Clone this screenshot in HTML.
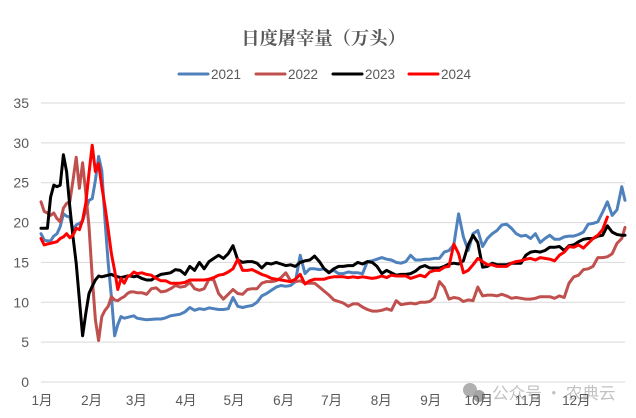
<!DOCTYPE html>
<html>
<head>
<meta charset="utf-8">
<style>
html,body{margin:0;padding:0;background:#fff;}
#chart{display:block;width:636px;height:418px;}
text{font-family:"Liberation Sans","Noto Sans CJK SC",sans-serif;}
</style>
</head>
<body>
<svg id="chart" xmlns="http://www.w3.org/2000/svg" width="636" height="418" viewBox="0 0 636 418">
  <rect x="0" y="0" width="636" height="418" fill="#ffffff"/>
  <text x="323.5" y="44.5" text-anchor="middle" font-size="18.3" font-weight="700" fill="#595959" style="font-family:'Noto Serif CJK SC','Liberation Serif',serif">日度屠宰量（万头）</text>
  <g id="grid"></g>
  <g id="yticks"></g>
  <g id="watermark">
    <circle cx="470" cy="390" r="7" fill="#b0b0b0"/>
    <circle cx="479" cy="396" r="6" fill="#a4a4a4"/>
    <text x="492" y="399" font-size="16.6" fill="#c2c2c2" style="font-family:'Noto Sans CJK SC',sans-serif">公众号 · 农典云</text>
  </g>
  <g id="xticks"></g>
  <g id="series"></g>
  <g id="legend"></g>
</svg>
<script>
const yTicks = [0, 5, 10, 15, 20, 25, 30, 35];
const monthLabels = ['1月','2月','3月','4月','5月','6月','7月','8月','9月','10月','11月','12月'];
const monthStartDays = [0,31,59,90,120,151,181,212,243,273,304,334];
const seriesNames = ['2021','2022','2023','2024'];
const seriesColors = ['#4f81bd','#c0504d','#000000','#ff0000'];
const days = [0,2,4,6,8,10,12,14,16,18,20,22,24,26,28,30,32,34,36,38,40,42,44,46,48,50,52,54,56,58,60,
63,66,69,72,75,78,81,84,87,90,93,96,99,102,105,108,111,114,117,120,123,126,129,132,135,138,141,144,147,150,
153,156,159,162,165,168,171,174,177,180,183,186,189,192,195,198,201,204,207,210,213,216,
219,222,225,228,231,234,237,240,243,246,249,252,255,258,261,264,267,270,273,276,279,282,285,288,291,294,297,300,
303,306,309,312,315,318,321,324,327,330,333,336,339,342,345,348,351,354,357,360,363,365];
const values2021 = [18.6,17.8,17.7,17.7,18.3,18.6,19.5,21.1,20.8,20.7,19,19.7,19.9,20.2,21.6,22.8,23,25.3,28.3,26.5,20.3,14.9,10.7,5.8,7.2,8.2,8,8.1,8.2,8.3,8,
7.9,7.8,
7.85,7.9,7.9,8.05,8.3,8.4,8.5,8.8,9.35,9,
9.2,9.1,9.3,9.2,9.1,9.1,9.2,10.6,9.5,9.35,
9.5,9.6,10,10.8,11.1,11.5,11.9,12.1,12,12.1,
12.6,15.9,13.6,14.2,14.2,14.1,14.2,13.8,14,13.6,
13.6,13.8,13.7,13.7,13.6,15.1,15.2,15.4,15.6,15.4,
15.3,15,14.9,15.1,15.9,15.3,15.3,15.4,15.4,15.5,
15.5,16.3,16.5,17.2,21.1,18.2,16.5,18.6,19,17,
18,18.6,19,19.7,19.8,19.3,18.6,18.3,18.4,18,
18.6,17.5,18,18.4,17.9,17.9,18.2,18.3,18.3,18.5,
18.8,19.8,19.9,20.1,21.3,22.6,20.9,21.6,24.5,22.8];
const values2022 = [22.6,21.4,21.2,20.9,21.2,20.5,20.1,21.8,22.4,22.6,25.3,28.2,24.3,27.5,23.7,19.5,13.2,7.8,5.2,8.2,9,9.5,10.7,10.3,10.2,10.5,10.7,11.1,11.3,11.3,11.2,
11.2,11,
11.7,11.8,11.3,11.4,11.7,12.1,11.9,12,12.5,11.7,
11.5,11.7,12.9,12.8,11.1,10.4,11,11.6,11.1,11,
11.6,11.7,11.7,12.4,12.6,12.6,12.7,13.1,13.7,12.7,
12.6,12.7,12.4,12.4,12.4,11.9,11.4,10.9,10.3,10.1,
9.9,9.5,9.8,9.8,9.4,9.1,8.9,8.9,9,9.2,
9,10.2,9.7,9.8,9.9,9.8,10,10,10.1,10.6,
12.6,11.9,10.4,10.6,10.5,10.1,10.3,10.2,11.9,10.8,
10.9,10.9,10.8,11,10.8,10.5,10.6,10.5,10.4,10.4,
10.5,10.7,10.7,10.7,10.5,10.8,10.6,12.4,13.2,13.4,
14.1,14.2,14.5,15.6,15.6,15.7,16.1,17.4,18,19.4];
const values2023 = [19.3,19.3,19.3,23.2,24.7,24.5,24.7,28.5,26.4,22,18.2,14.9,10.3,5.8,8.6,11.1,12,12.8,13.3,13.2,13.3,13.4,13.5,13.3,13.2,13.1,13.2,13.3,13.3,13.2,13.3,
13,12.8,
12.8,13.2,13.5,13.6,13.7,14.1,14,13.5,14.5,14,
15,14.2,15.1,15.5,15.9,15.5,16.1,17.1,15.3,15,
15.1,15.1,14.9,14.3,14.9,14.8,15,14.8,14.6,14.7,
14.5,15,15.2,15.3,15.8,15.1,14.2,13.7,14.2,14.5,
14.5,14.6,14.6,15,14.8,15.1,15,14.5,13.6,14,
13.7,13.4,13.5,13.5,13.6,13.9,14.4,14.6,14.3,14.3,
14.3,14.5,14.8,14.9,14.8,15.2,17.2,18.4,17.5,14.4,
14.5,14.9,14.7,14.7,14.7,14.9,14.9,14.9,15.9,16.3,
16.4,16.3,16.5,16.9,16.9,17,16.5,17.1,17.2,17.6,
17.9,18,18,18.3,18.4,19.6,18.8,18.5,18.4,18.4];
const values2024 = [18,17.2,17.3,17.4,17.5,17.6,18,18.2,18.6,18.1,18.4,19.3,19.1,20.3,22.4,26.2,29.7,26.4,27.4,24.5,22,19.1,16.1,14,11.6,13,12.4,13.2,13.4,13.8,13.6,
13.7,13.5,
13.4,13,12.7,12.7,12.4,12.4,12.4,12.5,12.8,12.8,
12.8,12.8,12.9,13.1,13.4,13.5,13.8,14.2,15.4,14,
14,14.1,13.8,13.5,13.3,13,12.9,12.8,12.7,12.6,
12.9,13.5,12.3,12.7,12.9,12.9,12.9,13.1,13.2,13.2,
13.2,13.1,13.2,13.1,13.2,13.1,13,13.1,13.3,13.1,
13.4,13.3,13.3,13.3,13,13.2,13.4,13.2,13.8,14,
14,14.4,14.5,17.3,16.1,13.7,14,14.7,15.5,15.1,
14.7,14.7,14.5,14.5,14.5,14.9,15.1,15.2,15.4,15.5,
15.3,15.6,15.5,15.4,15.2,15.9,16.3,17,16.9,17.2,
16.8,17.4,18,18.4,19.1,20.7,null,null,null,null];

const plotLeft = 41, plotRight = 625, plotBottom = 382, plotTop = 103;
const yearDays = 365, yMax = 35;
const NS = 'http://www.w3.org/2000/svg';
function xScale(day){ return plotLeft + day * (plotRight - plotLeft) / yearDays; }
function yScale(v){ return plotBottom - v * (plotBottom - plotTop) / yMax; }
function svgEl(tag, parent){ const e = document.createElementNS(NS, tag); parent.appendChild(e); return e; }

const gridG = document.getElementById('grid');
const yG = document.getElementById('yticks');
yTicks.forEach(function(t){
  const line = svgEl('line', gridG);
  
  
  line.setAttribute('x1', plotLeft); line.setAttribute('x2', plotRight);
  line.setAttribute('y1', yScale(t)); line.setAttribute('y2', yScale(t));
  line.setAttribute('stroke', '#d9d9d9'); line.setAttribute('stroke-width', '1');
  const lab = svgEl('text', yG);
  
  
  lab.setAttribute('x', 29); lab.setAttribute('y', yScale(t) + 5);
  lab.setAttribute('text-anchor', 'end'); lab.setAttribute('font-size', '14');
  lab.setAttribute('fill', '#595959');
  lab.textContent = t;
});

const xG = document.getElementById('xticks');
monthLabels.forEach(function(m, i){
  const lab = svgEl('text', xG);
  
  
  lab.setAttribute('x', xScale(monthStartDays[i]) + 1); lab.setAttribute('y', 405);
  lab.setAttribute('text-anchor', 'middle'); lab.setAttribute('font-size', '13.5');
  lab.setAttribute('fill', '#595959');
  lab.textContent = m;
});

const allSeries = [values2021, values2022, values2023, values2024];
const sG = document.getElementById('series');
allSeries.forEach(function(vals, i){
  let d = '', pen = false;
  vals.forEach(function(v, k){
    if (v === null || v === undefined || isNaN(v)) { pen = false; return; }
    d += (pen ? 'L' : 'M') + xScale(days[k]).toFixed(1) + ' ' + yScale(v).toFixed(1);
    pen = true;
  });
  const p = svgEl('path', sG);
  
  
  p.setAttribute('d', d);
  p.setAttribute('fill', 'none');
  p.setAttribute('stroke', seriesColors[i]);
  p.setAttribute('stroke-width', '3');
  p.setAttribute('stroke-linejoin', 'round');
  p.setAttribute('stroke-linecap', 'round');
});

const legendLeft = [178, 255, 332, 408];
const lG = document.getElementById('legend');
seriesNames.forEach(function(n, i){
  const l = svgEl('line', lG);
  
  
  l.setAttribute('x1', legendLeft[i] + 1); l.setAttribute('x2', legendLeft[i] + 30);
  l.setAttribute('y1', 74); l.setAttribute('y2', 74);
  l.setAttribute('stroke', seriesColors[i]); l.setAttribute('stroke-width', '3');
  l.setAttribute('stroke-linecap', 'round');
  const t = svgEl('text', lG);
  
  
  t.setAttribute('x', legendLeft[i] + 33); t.setAttribute('y', 79);
  t.setAttribute('font-size', '13.5'); t.setAttribute('fill', '#595959');
  t.textContent = n;
});
</script>
</body>
</html>
